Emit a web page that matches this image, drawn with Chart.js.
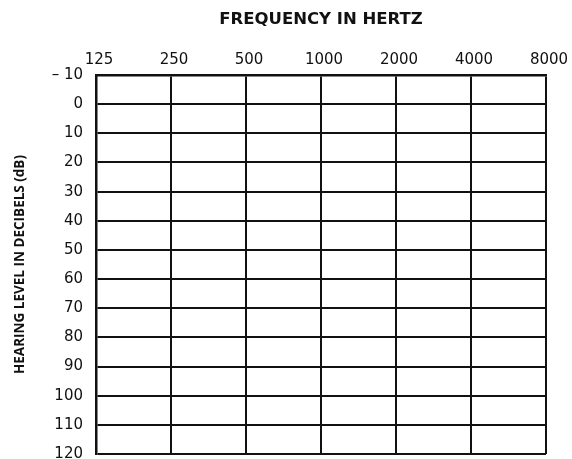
<!DOCTYPE html>
<html>
<head>
<meta charset="utf-8">
<title>Audiogram</title>
<script src="https://cdn.jsdelivr.net/npm/chart.js@4.4.0/dist/chart.umd.min.js"></script>
<style>
  html, body { margin: 0; padding: 0; background: #fff; }
  #wrap { width: 572px; height: 459px; }
</style>
</head>
<body>
<div id="wrap"><canvas id="audiogram" width="572" height="459"></canvas></div>
<script>
// Axis data for a blank audiogram
const frequencies = [125, 250, 500, 1000, 2000, 4000, 8000];
const frequencyLabels = ["125", "250", "500", "1000", "2000", "4000", "8000"];
const hearingLevels = [-10, 0, 10, 20, 30, 40, 50, 60, 70, 80, 90, 100, 110, 120];
const levelLabels = ["\u2013 10", "0", "10", "20", "30", "40", "50", "60", "70", "80", "90", "100", "110", "120"];
// no thresholds plotted on the blank form
const thresholds = [];

const ink = "#111";
const tickFont = { family: "'DejaVu Sans', sans-serif", size: 15 };

const ctx = document.getElementById("audiogram").getContext("2d");
new Chart(ctx, {
    type: "scatter",
    data: {
        datasets: [
            {
                label: "Thresholds",
                data: thresholds,
                borderColor: ink,
                backgroundColor: ink,
            },
        ],
    },
    options: {
        responsive: false,
        animation: false,
        layout: {
            padding: { left: 0, top: 0, right: 26, bottom: 5 },
        },
        plugins: {
            legend: { display: false },
            tooltip: { enabled: false },
        },
        scales: {
            x: {
                type: "logarithmic",
                position: "top",
                min: 125,
                max: 8000,
                afterBuildTicks: (axis) => {
                    axis.ticks = frequencies.map((v) => ({ value: v }));
                },
                afterFit: (axis) => {
                    axis.height = 75;
                    axis.paddingLeft = 0;
                    axis.paddingRight = 0;
                },
                title: {
                    display: true,
                    text: "FREQUENCY IN HERTZ",
                    color: ink,
                    font: { family: "'DejaVu Sans', sans-serif", size: 16.5, weight: "bold" },
                    padding: { top: 10, bottom: 0 },
                },
                ticks: {
                    color: ink,
                    padding: 6,
                    labelOffset: 3,
                    maxRotation: 0,
                    autoSkip: false,
                    font: tickFont,
                    callback: function (value) {
                        const i = frequencies.indexOf(value);
                        return i >= 0 ? frequencyLabels[i] : "";
                    },
                },
                grid: {
                    color: ink,
                    lineWidth: 2,
                    drawTicks: false,
                },
                border: { display: true, color: ink, width: 2.5 },
            },
            y: {
                type: "linear",
                reverse: true,
                min: -10,
                max: 120,
                afterBuildTicks: (axis) => {
                    axis.ticks = hearingLevels.map((v) => ({ value: v }));
                },
                afterFit: (axis) => {
                    axis.width = 96;
                    axis.paddingTop = 0;
                    axis.paddingBottom = 0;
                },
                title: {
                    display: true,
                    text: "HEARING LEVEL IN DECIBELS (dB)",
                    color: ink,
                    font: { family: "'Open Sans', sans-serif", size: 13.5, weight: "bold" },
                    padding: { top: 12, bottom: 0 },
                },
                ticks: {
                    color: ink,
                    padding: 13,
                    autoSkip: false,
                    font: tickFont,
                    callback: function (value) {
                        const i = hearingLevels.indexOf(value);
                        return i >= 0 ? levelLabels[i] : "";
                    },
                },
                grid: {
                    color: ink,
                    lineWidth: 2,
                    drawTicks: false,
                },
                border: { display: true, color: ink, width: 2.5 },
            },
        },
    },
});
</script>
</body>
</html>
